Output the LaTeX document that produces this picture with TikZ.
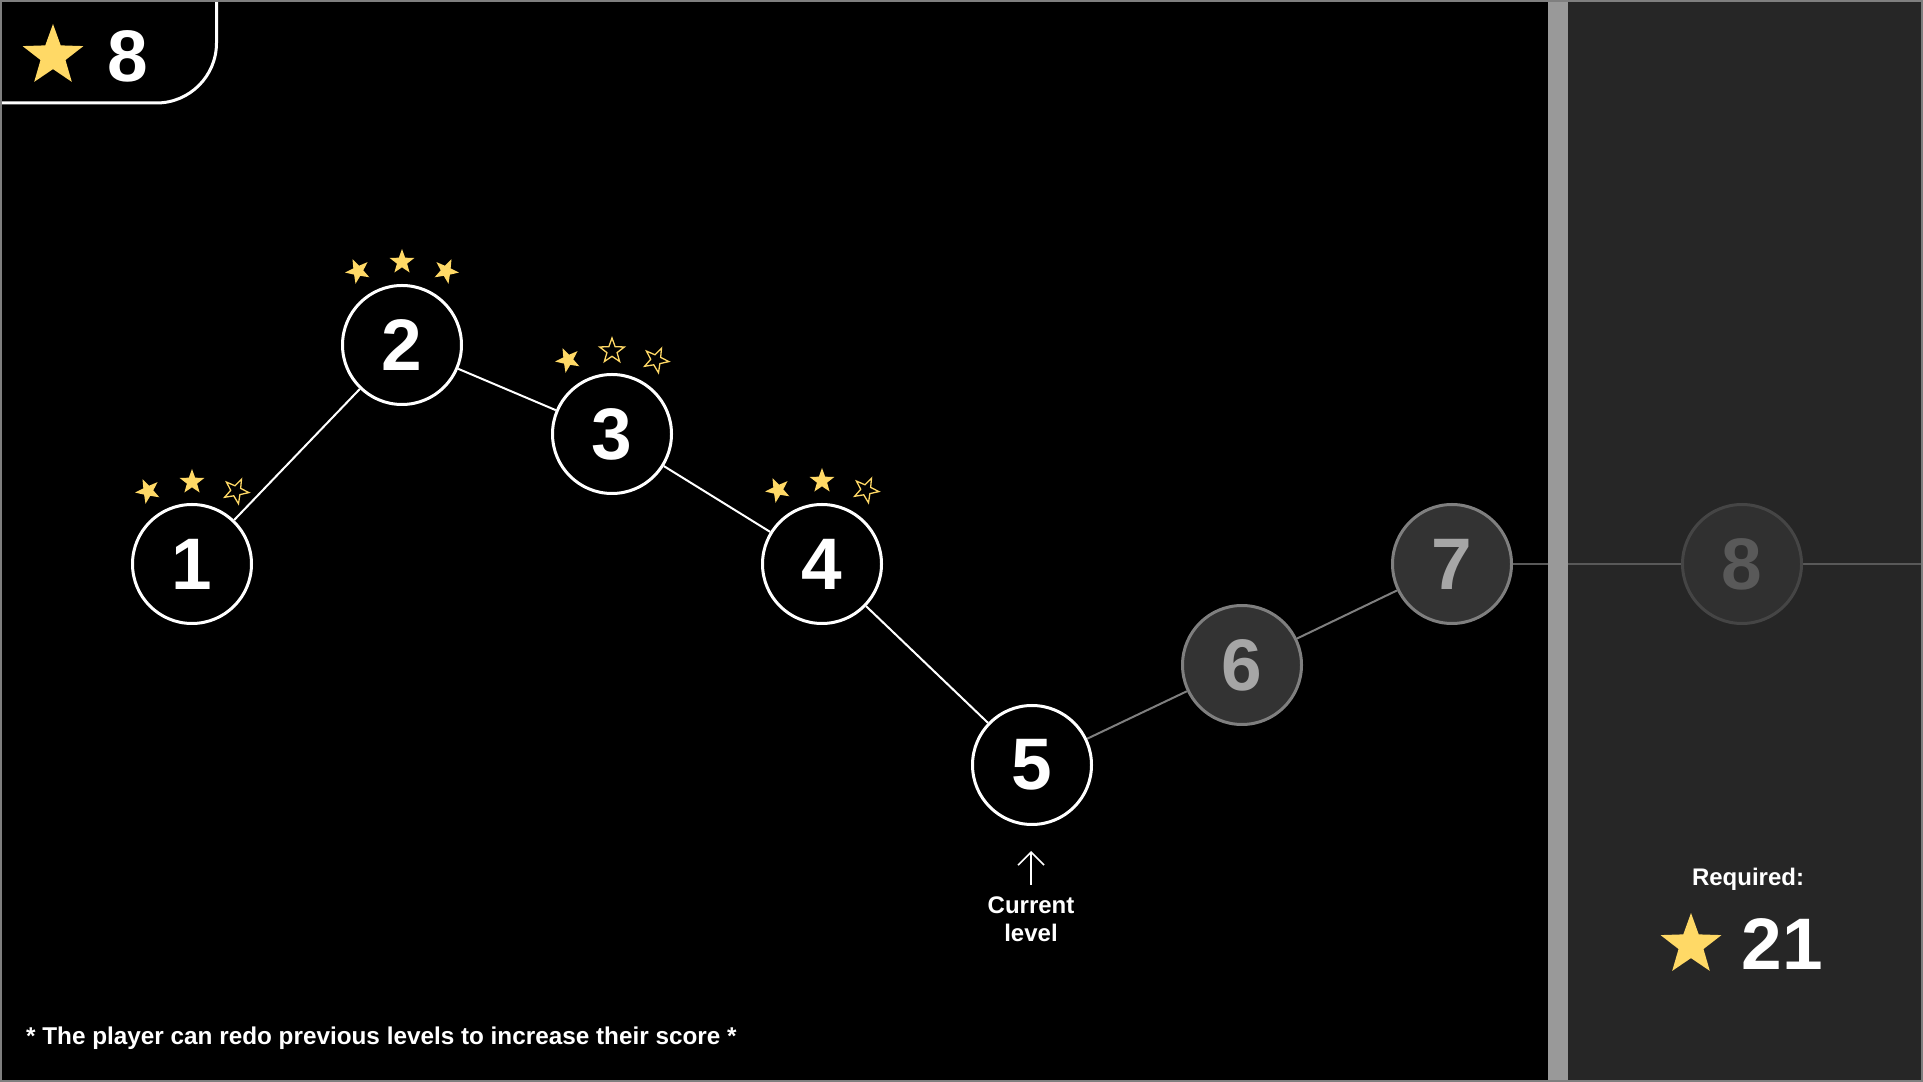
\documentclass[tikz,border=0pt]{standalone}
\usepackage{fontspec}
\setmainfont{Liberation Sans}
\usetikzlibrary{calc,arrows.meta}
\pgfdeclarelayer{bg}
\pgfdeclarelayer{lines}
\pgfdeclarelayer{barlayer}
\pgfsetlayers{bg,lines,barlayer,main}
\definecolor{starc}{HTML}{FFD966}
\definecolor{panelc}{HTML}{262626}
\definecolor{barc}{HTML}{999999}
\definecolor{lockfill}{HTML}{333333}
\definecolor{lockdraw}{HTML}{7F7F7F}
\definecolor{locktext}{HTML}{A6A6A6}
\definecolor{farfill}{HTML}{303030}
\definecolor{fardraw}{HTML}{454545}
\definecolor{fartext}{HTML}{595959}
\definecolor{farline}{HTML}{595959}
\begin{document}
\begin{tikzpicture}[x=1pt,y=1pt,
  lvl/.style={circle, minimum size=119pt, inner sep=0pt, line width=3pt, font=\fontsize{73}{73}\selectfont\bfseries},
  donelvl/.style={lvl, draw=white, fill=black, text=white},
  locklvl/.style={lvl, draw=lockdraw, fill=lockfill, text=locktext},
  farlvl/.style={lvl, draw=fardraw, fill=farfill, text=fartext},
  doneline/.style={draw=white, line width=2pt},
  lockline/.style={draw=lockdraw, line width=2pt},
  farlink/.style={draw=farline, line width=2pt},
  txt/.style={text=white, font=\fontsize{24}{28}\selectfont\bfseries, inner sep=0pt},
  notetxt/.style={text=white, font=\fontsize{24.3}{28}\selectfont\bfseries, inner sep=0pt},
  bignum/.style={text=white, font=\fontsize{73}{73}\selectfont\bfseries, inner sep=0pt},
  curarrow/.style={draw=white, line width=1.6pt, -{Straight Barb[length=13pt,width=26pt]}},
  pics/fstar/.style={code={\fill[starc] (90:#1) -- (126:{0.41*#1}) -- (162:#1) -- (198:{0.41*#1}) -- (234:#1) -- (270:{0.41*#1}) -- (306:#1) -- (342:{0.41*#1}) -- (18:#1) -- (54:{0.41*#1}) -- cycle;}},
  pics/ostar/.style={code={\draw[starc, line width=1.3pt, line join=miter] (90:#1) -- (126:{0.41*#1}) -- (162:#1) -- (198:{0.41*#1}) -- (234:#1) -- (270:{0.41*#1}) -- (306:#1) -- (342:{0.41*#1}) -- (18:#1) -- (54:{0.41*#1}) -- cycle;}},
]
\useasboundingbox (0,0) rectangle (1923,1082);
\begin{pgfonlayer}{bg}
  \fill[black] (0,0) rectangle (1923,1082);
  \fill[panelc] (1568,0) rectangle (1923,1082);
\end{pgfonlayer}
\begin{pgfonlayer}{barlayer}
  \fill[barc] (1548,0) rectangle (1568,1082);
\end{pgfonlayer}

% level nodes
\node[donelvl] (n1) at (192,518) {1};
\node[donelvl] (n2) at (402,737) {2};
\node[donelvl] (n3) at (612,648) {3};
\node[donelvl] (n4) at (822,518) {4};
\node[donelvl] (n5) at (1032,317) {5};
\node[locklvl] (n6) at (1242,417) {6};
\node[locklvl] (n7) at (1452,518) {7};
\node[farlvl]  (n8) at (1742,518) {8};
\coordinate (edge) at (1923,518);

\begin{pgfonlayer}{lines}
  \draw[doneline] (n1) -- (n2);
  \draw[doneline] (n2) -- (n3);
  \draw[doneline] (n3) -- (n4);
  \draw[doneline] (n4) -- (n5);
  \draw[lockline] (n5) -- (n6);
  \draw[lockline] (n6) -- (n7);
  \draw[farlink] (n7) -- (n8);
  \draw[farlink] (n8) -- (edge);
\end{pgfonlayer}

% stars above levels
\pic[rotate=25]  at ($(n1)+(-44,73)$) {fstar=13};
\pic             at ($(n1)+(0,82)$)   {fstar=13};
\pic[rotate=-25] at ($(n1)+(44,73)$)  {ostar=13};
\pic[rotate=25]  at ($(n2)+(-44,74)$) {fstar=13};
\pic             at ($(n2)+(0,83)$)   {fstar=13};
\pic[rotate=-25] at ($(n2)+(44,74)$)  {fstar=13};
\pic[rotate=25]  at ($(n3)+(-44,74)$) {fstar=13};
\pic             at ($(n3)+(0,83)$)   {ostar=13};
\pic[rotate=-25] at ($(n3)+(44,74)$)  {ostar=13};
\pic[rotate=25]  at ($(n4)+(-44,74)$) {fstar=13};
\pic             at ($(n4)+(0,83)$)   {fstar=13};
\pic[rotate=-25] at ($(n4)+(44,74)$)  {ostar=13};

% score box top-left
\draw[white, line width=3pt, rounded corners=60pt] (216.5,1086) |- (-4,979);
\pic at (53,1026) {fstar=32};
\node[bignum] (score) at (127.5,1025.5) {8};

% current level marker
\node[txt, anchor=base] (cur1) at (1031,168) {Current};
\node[txt, anchor=base] (cur2) at (1031,140) {level};
\coordinate (arrtail) at (1031,197);
\coordinate (arrtip) at (1031,231);
\draw[curarrow] (arrtail) -- (arrtip);

% required panel
\node[txt, anchor=base] (req) at (1748,196) {Required:};
\pic at (1691,137) {fstar=32};
\node[bignum] (reqnum) at (1782.5,138) {21};

% footnote
\node[notetxt, anchor=base west] (note) at (26,37) {* The player can redo previous levels to increase their score *};

% frame
\draw[lockdraw, line width=2pt] (1,1) rectangle (1922,1081);
\end{tikzpicture}
\end{document}
